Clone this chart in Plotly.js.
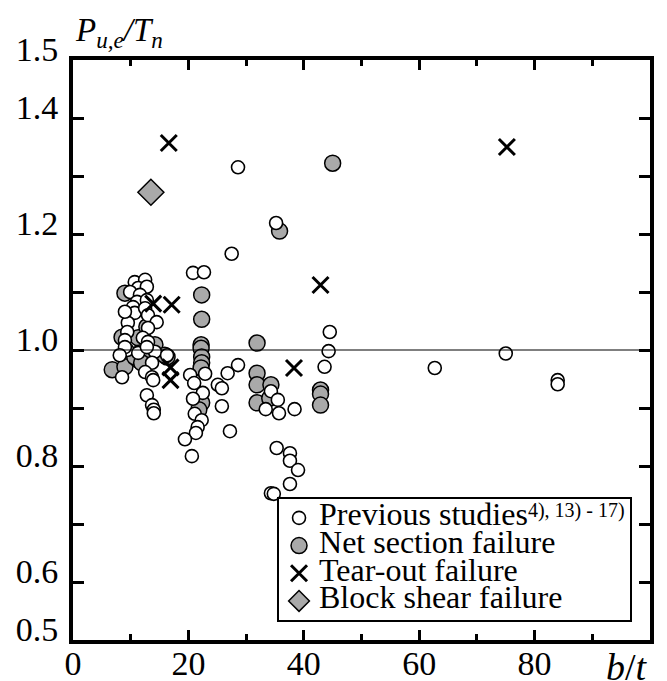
<!DOCTYPE html>
<html>
<head>
<meta charset="utf-8">
<script src="https://cdn.plot.ly/plotly-3.0.1.min.js"></script>
<style>
  html, body { margin: 0; padding: 0; background: #ffffff; }
  #chart { width: 667px; height: 681px; }
</style>
</head>
<body>
<div id="chart"></div>
<script>
// Previous studies (open circles): width-thickness ratio b/t vs strength ratio Pu,e/Tn
const prevX = [10.7, 12.5, 11.3, 12.8, 9.9, 11.6, 11.1, 12.8, 10.4, 10.7, 12.5, 13.0, 14.5, 9.5, 9.4, 9.0,
  13.0, 12.1, 13.0, 9.4, 11.3, 14.2, 16.3, 9.0, 8.1, 8.5, 12.8, 13.7, 12.5, 13.7, 13.9, 12.8, 13.7,
  14.0, 14.0, 9.0,
  20.8, 22.7, 27.5, 20.3, 21.0, 22.9, 22.5, 20.8, 21.1, 22.3, 21.6, 21.3, 19.4, 20.6, 28.6, 26.8,
  25.1, 25.8, 25.8, 27.2, 28.6, 35.2,
  34.3, 35.5, 33.4, 35.7, 38.4, 44.5, 44.3, 43.6, 35.3, 37.6, 37.6, 39.0, 37.6, 34.3, 34.8,
  62.7, 75.0, 84.0, 84.0];
const prevY = [1.117, 1.121, 1.107, 1.109, 1.100, 1.095, 1.083, 1.086, 1.074, 1.064, 1.072, 1.060, 1.048, 1.047, 1.031, 1.017,
  1.038, 1.021, 1.014, 1.000, 0.995, 0.997, 0.991, 1.005, 0.991, 0.953, 1.005, 0.978, 0.962, 0.953, 0.948, 0.922, 0.905,
  0.897, 0.891, 1.066,
  1.133, 1.134, 1.166, 0.957, 0.943, 0.959, 0.926, 0.916, 0.890, 0.879, 0.867, 0.857, 0.846, 0.817, 0.974, 0.960,
  0.940, 0.934, 0.903, 0.860, 1.315, 1.219,
  0.929, 0.914, 0.898, 0.891, 0.898, 1.031, 0.998, 0.971, 0.831, 0.822, 0.809, 0.793, 0.769, 0.753, 0.752,
  0.969, 0.994, 0.948, 0.941];

// Net section failure (grey circles)
const netX = [45.0, 35.8, 22.3, 22.3, 22.2, 22.2, 22.3, 22.3, 22.2, 22.3, 21.8,
  31.9, 31.9, 31.9, 34.3, 31.9, 34.1, 42.9, 42.9, 42.9,
  6.8, 9.0, 9.0, 8.5, 11.3, 11.6, 12.8, 14.2, 16.3, 12.5, 11.3, 10.7, 11.9, 15.9];
const netY = [1.322, 1.205, 1.095, 1.053, 1.009, 1.003, 0.988, 0.978, 0.969, 0.909, 0.897,
  1.012, 0.960, 0.940, 0.940, 0.909, 0.917, 0.931, 0.924, 0.905,
  0.966, 0.971, 1.098, 1.022, 1.021, 0.995, 1.040, 1.009, 0.988, 0.983, 0.983, 0.988, 0.978, 0.991];

// Tear-out failure (crosses)
const tearX = [16.6, 75.2, 42.9, 38.3, 13.9, 17.1, 16.9, 16.9];
const tearY = [1.357, 1.350, 1.112, 0.969, 1.080, 1.078, 0.970, 0.948];

// Block shear failure (diamond)
const blockX = [13.5];
const blockY = [1.272];

// Axis ticks and labels
const xTickVals = [0, 20, 40, 60, 80, 100];
const xTickText = ['0', '20', '40', '60', '80', ''];
const yTickVals = [0.5, 0.6, 0.7, 0.8, 0.9, 1.0, 1.1, 1.2, 1.3, 1.4, 1.5];
const yTickText = ['0.5', '0.6', '', '0.8', '', '1.0', '', '1.2', '', '1.4', '1.5'];

// Legend labels
const seriesNames = ['Previous studies', 'Net section failure', 'Tear-out failure', 'Block shear failure'];
const refNote = '4), 13) - 17)';

const SERIF = 'Liberation Serif';
const GREY = '#a9a9a9';

function big(t) { return '<span style="font-size:32px">' + t + '</span>'; }

const traces = [
  {
    x: netX, y: netY, type: 'scatter', mode: 'markers',
    name: big(seriesNames[1]), legendrank: 2,
    marker: { symbol: 'circle', size: 16, color: GREY, line: { color: '#000', width: 1.5 } }
  },
  {
    x: prevX, y: prevY, type: 'scatter', mode: 'markers',
    name: big(seriesNames[0]) + '<sup><span style="font-size:20px">' + refNote + '</span></sup>',
    legendrank: 1,
    marker: { symbol: 'circle', size: 13, color: '#fff', line: { color: '#000', width: 1.6 } }
  },
  {
    x: tearX, y: tearY, type: 'scatter', mode: 'markers',
    name: big(seriesNames[2]), legendrank: 3,
    marker: { symbol: 'x-thin-open', size: 16, color: '#000', line: { color: '#000', width: 3 } }
  },
  {
    x: blockX, y: blockY, type: 'scatter', mode: 'markers',
    name: big(seriesNames[3]), legendrank: 4,
    marker: { symbol: 'diamond', size: 20, color: GREY, line: { color: '#000', width: 1.5 } }
  }
];

const axisCommon = {
  showline: true, linewidth: 4, linecolor: '#000',
  ticks: 'inside', tickwidth: 3, tickcolor: '#000',
  mirror: 'ticks', showgrid: false, zeroline: false,
  tickfont: { family: SERIF, size: 34, color: '#000' }
};

const layout = {
  width: 667, height: 681,
  margin: { l: 73, r: 17, t: 60, b: 41 },
  paper_bgcolor: '#fff', plot_bgcolor: '#fff',
  font: { family: SERIF, color: '#000' },
  showlegend: true,
  xaxis: Object.assign({}, axisCommon, {
    range: [0, 100], tickmode: 'array', tickvals: xTickVals, ticktext: xTickText,
    ticklen: 10, ticklabelstandoff: -10,
    minor: { dtick: 10, tick0: 0, ticks: 'inside', ticklen: 6, tickwidth: 3, tickcolor: '#000', showgrid: false }
  }),
  yaxis: Object.assign({}, axisCommon, {
    range: [0.5, 1.5], tickmode: 'array', tickvals: yTickVals, ticktext: yTickText,
    ticklen: 11, ticklabelshift: -11, ticklabelstandoff: 4
  }),
  legend: {
    x: 0.3536, y: 0.031, xanchor: 'left', yanchor: 'bottom',
    bgcolor: '#fff', bordercolor: '#000', borderwidth: 2,
    font: { family: SERIF, size: 19, color: '#000' },
    itemsizing: 'trace', tracegroupgap: 0
  },
  shapes: [
    { type: 'line', xref: 'paper', x0: 0, x1: 1, yref: 'y', y0: 1.0, y1: 1.0,
      line: { color: '#000', width: 1.2 }, layer: 'above' }
  ],
  annotations: [
    { xref: 'paper', yref: 'paper', x: 0, y: 1, xanchor: 'left', yanchor: 'bottom', yshift: 5,
      showarrow: false, text: '<i>P</i><sub><i>u,e</i></sub><i>/T</i><sub><i>n</i></sub>',
      font: { family: SERIF, size: 33, color: '#000' } },
    { xref: 'paper', yref: 'paper', x: 1, y: 0, xanchor: 'right', yanchor: 'top', yshift: -4,
      showarrow: false, text: '<i>b</i>/<i>t</i>',
      font: { family: SERIF, size: 38, color: '#000' } }
  ]
};

Plotly.newPlot('chart', traces, layout, { displayModeBar: false, staticPlot: true });
</script>
</body>
</html>
